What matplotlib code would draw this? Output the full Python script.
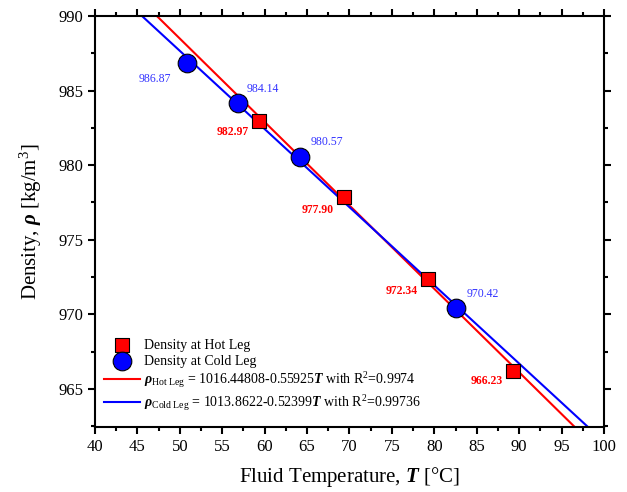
import numpy as np
import matplotlib
matplotlib.use('Agg')
import matplotlib.pyplot as plt
from matplotlib.ticker import MultipleLocator

plt.rcParams['font.family'] = ['Liberation Serif', 'DejaVu Serif']
plt.rcParams['mathtext.fontset'] = 'custom'
plt.rcParams['mathtext.rm'] = 'Liberation Serif'
plt.rcParams['mathtext.it'] = 'Liberation Serif:italic'
plt.rcParams['mathtext.bf'] = 'Liberation Serif:bold'
plt.rcParams['mathtext.bfit'] = 'Liberation Serif:bold:italic'

# data
hot_T = [59.33, 69.35, 79.26, 89.27]
hot_rho = [982.97, 977.90, 972.34, 966.23]
cold_T = [50.85, 56.86, 64.17, 82.56]
cold_rho = [986.87, 984.14, 980.57, 970.42]

# fit coefficients (from legend)
hot_fit = (1016.44808, -0.55925)
cold_fit = (1013.8622, -0.52399)

# label offsets in pixels (dx, dy) relative to each point
hot_offsets = [(-26, -11), (-26, -13), (-26, -12), (-26, -10)]
cold_offsets = [(-32, -16), (25, 14), (27, 15), (27, 14)]

fig = plt.figure(figsize=(6.27, 4.92), dpi=100)
ax = fig.add_axes([0.1515, 0.1321, 0.8118, 0.8354])

T_line = np.array([40.0, 100.0])
ax.plot(T_line, hot_fit[0] + hot_fit[1] * T_line, color='#ff0000', lw=1.5,
        label=r'$\mathbfit{\rho}_{\mathrm{Hot\ Leg}}$ = 1016.44808-0.55925$\mathbfit{T}$ with R$^2$=0.9974', zorder=2)
ax.plot(T_line, cold_fit[0] + cold_fit[1] * T_line, color='#0000ff', lw=1.5,
        label=r'$\mathbfit{\rho}_{\mathrm{Cold\ Leg}}$ = 1013.8622-0.52399$\mathbfit{T}$ with R$^2$=0.99736', zorder=2)
h1 = ax.scatter(hot_T, hot_rho, marker='s', s=90, color='#ff0000', edgecolor='black',
                linewidth=0.8, zorder=3, label='Density at Hot Leg')
h2 = ax.scatter(cold_T, cold_rho, marker='o', s=180, color='#0000ff', edgecolor='black',
                linewidth=0.8, zorder=3, label='Density at Cold Leg')

for t, r, (dx, dy) in zip(hot_T, hot_rho, hot_offsets):
    ax.annotate(f'{r:.2f}', (t, r), xytext=(dx * 0.72, dy * 0.72), textcoords='offset points',
                ha='center', va='center', color='#ff0000', fontsize=8.5, fontweight='bold')
for t, r, (dx, dy) in zip(cold_T, cold_rho, cold_offsets):
    ax.annotate(f'{r:.2f}', (t, r), xytext=(dx * 0.72, dy * 0.72), textcoords='offset points',
                ha='center', va='center', color='#3333ff', fontsize=8.5)

ax.set_xlim(40, 100)
ax.set_ylim(962.45, 990)
ax.xaxis.set_major_locator(MultipleLocator(5))
ax.xaxis.set_minor_locator(MultipleLocator(2.5))
ax.yaxis.set_major_locator(MultipleLocator(5))
ax.yaxis.set_minor_locator(MultipleLocator(2.5))
ax.tick_params(which='both', direction='out', top=True, right=True, width=1.5, labelsize=12)
ax.tick_params(which='major', length=5)
ax.tick_params(which='minor', length=3)
for s in ax.spines.values():
    s.set_linewidth(1.5)

ax.set_xlabel(r'Fluid Temperature, $\mathbfit{T}$ [°C]', fontsize=15, labelpad=7)
ax.set_ylabel(r'Density, $\mathbfit{\rho}$ [kg/m$^3$]', fontsize=15, labelpad=10)

handles, labels = ax.get_legend_handles_labels()
order = [2, 3, 0, 1]
ax.legend([handles[i] for i in order], [labels[i] for i in order], loc='lower left',
          frameon=False, fontsize=10, handlelength=2.6, handletextpad=0.3,
          labelspacing=0.2, borderaxespad=0.6, bbox_to_anchor=(-0.01, 0.0))

fig.savefig('out.png', dpi=100)
